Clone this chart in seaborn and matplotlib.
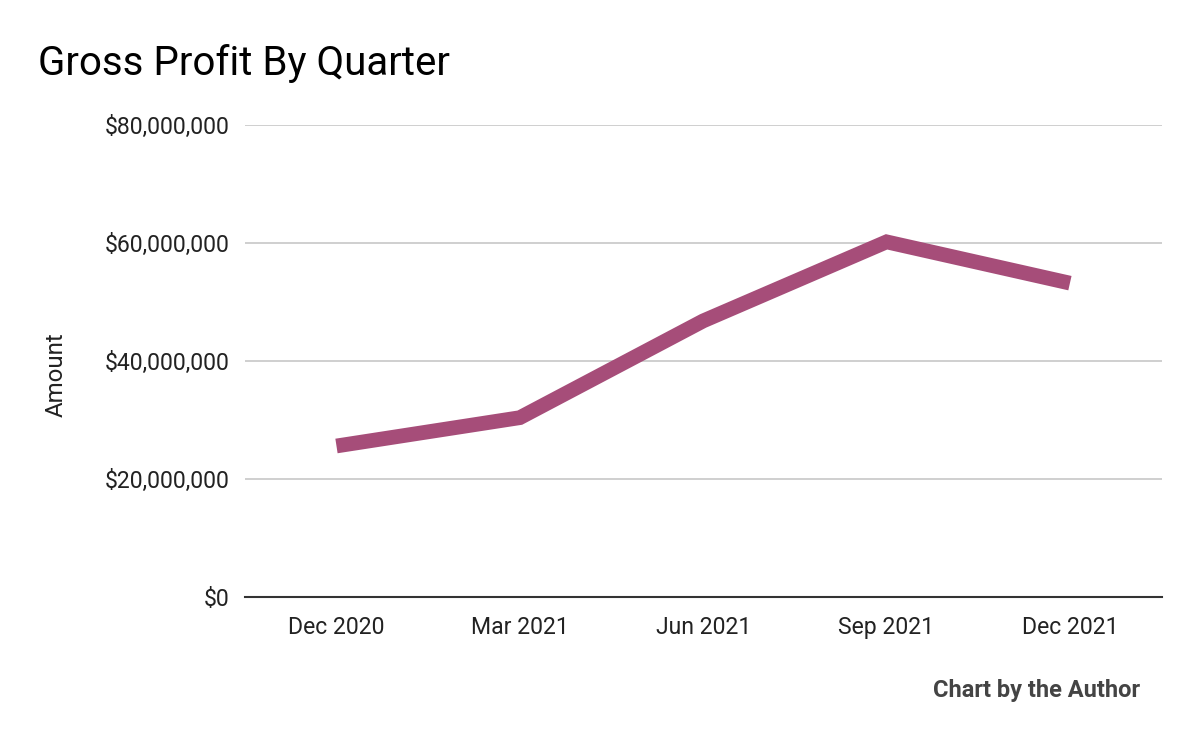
import numpy as np
import pandas as pd
import seaborn as sns
import matplotlib.pyplot as plt
from matplotlib.ticker import FuncFormatter

sns.set_theme(style="white")
plt.rcParams['font.family'] = ['Roboto', 'DejaVu Sans']

quarters = ["Dec 2020", "Mar 2021", "Jun 2021", "Sep 2021", "Dec 2021"]
gross_profit = [25.6e6, 30.4e6, 46.8e6, 60.2e6, 53.2e6]

df = pd.DataFrame({"Quarter": quarters, "Amount": gross_profit})

fig = plt.figure(figsize=(12, 7.42), dpi=100)
ax = fig.add_axes([0.204, 0.1954, 0.764, 0.6361])

sns.lineplot(data=df, x="Quarter", y="Amount", ax=ax, color="#a64d79",
             linewidth=10.6, sort=False)
ax.lines[0].set_solid_capstyle("butt")
ax.lines[0].set_solid_joinstyle("miter")

ax.set_xlim(-0.5, len(quarters) - 0.5)
ax.set_ylim(0, 80e6)
ax.set_yticks(np.arange(0, 80e6 + 1, 20e6))
ax.yaxis.set_major_formatter(FuncFormatter(lambda v, p: f"${v:,.0f}"))
ax.grid(axis="y", color="#cccccc", linewidth=1.3)
ax.set_axisbelow(True)
for s in ["top", "right", "left"]:
    ax.spines[s].set_visible(False)
ax.spines["bottom"].set_color("#333333")
ax.spines["bottom"].set_linewidth(1.5)
ax.tick_params(axis="both", length=0, labelsize=16.6, colors="#222222")
ax.tick_params(axis="y", pad=11)
ax.tick_params(axis="x", pad=14)

ax.set_xlabel("")
ax.set_ylabel("Amount", fontsize=17.3, color="#222222")
ax.yaxis.set_label_coords(-0.193, 0.472)

fig.text(0.032, 0.915, "Gross Profit By Quarter", fontsize=29, color="#000000",
         ha="left", va="center")
fig.text(0.95, 0.07, "Chart by the Author", fontsize=17, fontweight="bold",
         color="#444444", ha="right", va="center")

fig.savefig("out.png", dpi=100)
